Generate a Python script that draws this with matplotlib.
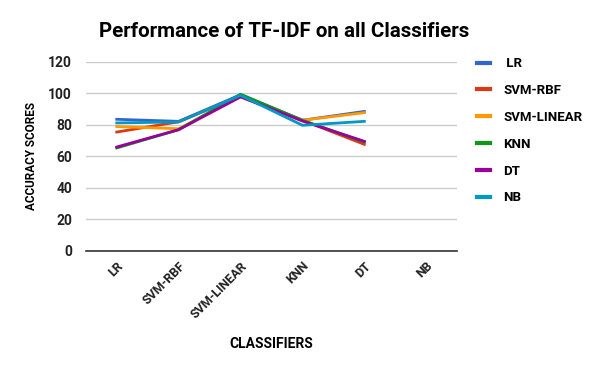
import matplotlib.pyplot as plt
import numpy as np

plt.rcParams['font.family'] = ['Roboto', 'DejaVu Sans']

# categories on the x axis (NB has no values in the reference)
classifiers = ["LR", "SVM-RBF", "SVM-LINEAR", "KNN", "DT", "NB"]

# accuracy per series
lr = [83.6, 82.3, 99.2, 83.0, 88.6, np.nan]
svm_rbf = [75.5, 82.0, 98.5, 83.0, 67.7, np.nan]
svm_linear = [79.0, 77.6, 98.0, 83.0, 87.8, np.nan]
knn = [65.4, 77.0, 99.5, 83.0, 69.2, np.nan]
dt = [66.0, 77.0, 97.8, 82.5, 69.6, np.nan]
nb = [81.3, 81.9, 98.8, 79.8, 82.3, np.nan]

series = {
    " LR": lr,
    "SVM-RBF": svm_rbf,
    "SVM-LINEAR": svm_linear,
    "KNN": knn,
    "DT": dt,
    "NB": nb,
}
colors = ["#3366cc", "#dc3912", "#ff9900", "#109618", "#990099", "#0099c6"]

fig = plt.figure(figsize=(6, 3.71), dpi=100)
ax = fig.add_axes([0.143, 0.3235, 0.619, 0.5095])

x = np.arange(len(classifiers))
for (name, vals), c in zip(series.items(), colors):
    ax.plot(x, vals, color=c, linewidth=2, label=name)

ax.set_xlim(-0.5, len(classifiers) - 0.5)
ax.set_ylim(0, 120)
ax.set_yticks(range(0, 121, 20))
ax.set_xticks(x)
ax.set_xticklabels(classifiers, rotation=45, ha="right", rotation_mode="anchor",
                   fontsize=9, fontweight="bold", color="#222222")
for lab in ax.get_yticklabels():
    lab.set_fontsize(10)
    lab.set_fontweight("bold")
    lab.set_color("#222222")
ax.tick_params(axis="both", length=0)
ax.tick_params(axis="x", pad=6)
ax.tick_params(axis="y", pad=10)

ax.grid(axis="y", color="#cccccc", linewidth=1)
ax.set_axisbelow(True)
for s in ["top", "right", "left"]:
    ax.spines[s].set_visible(False)
ax.spines["bottom"].set_color("#333333")
ax.spines["bottom"].set_linewidth(1.2)

ax.set_xlabel("CLASSIFIERS", fontsize=10, fontweight="bold", labelpad=12)
ax.set_ylabel("ACCURACY SCORES", fontsize=8.5, fontweight="bold", labelpad=7)

fig.text(0.473, 0.915, "Performance of TF-IDF on all Classifiers",
         ha="center", va="center", fontsize=14.8, fontweight="bold")

leg = fig.legend(loc="upper left", bbox_to_anchor=(0.775, 0.878), frameon=False,
                 handlelength=1.0, handletextpad=1.0, labelspacing=1.05,
                 prop={"weight": "bold", "size": 9.5})
for line in leg.get_lines():
    line.set_linewidth(3)

fig.savefig("out.png", dpi=100)
